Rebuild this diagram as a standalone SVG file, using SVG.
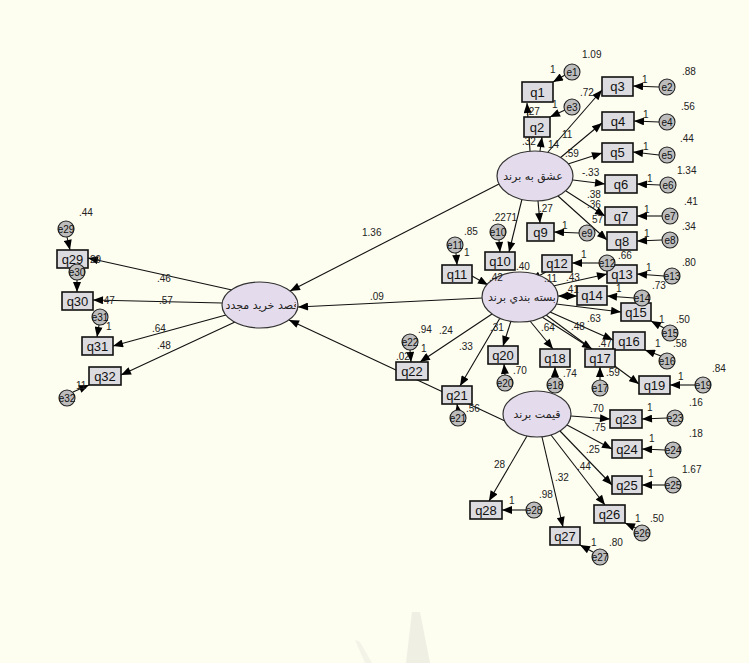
<svg xmlns="http://www.w3.org/2000/svg" width="749" height="663" viewBox="0 0 749 663">
<defs>
<marker id="ah" viewBox="0 0 10 8" refX="10" refY="4" markerWidth="11" markerHeight="8" markerUnits="userSpaceOnUse" orient="auto-start-reverse"><path d="M0,0 L10,4 L0,8 z" fill="#000"/></marker>
<clipPath id="c1"><ellipse cx="535" cy="176" rx="36" ry="24"/></clipPath>
<clipPath id="c2"><ellipse cx="520" cy="297" rx="36" ry="24"/></clipPath>
<clipPath id="c3"><ellipse cx="537" cy="414" rx="33" ry="22"/></clipPath>
<clipPath id="c4"><ellipse cx="260" cy="305" rx="36" ry="22"/></clipPath>
</defs>
<style>
.box{fill:#dcdce0;stroke:#111;stroke-width:1.6}
.lat{fill:#e4dcec;stroke:#333;stroke-width:1.2}
.err{fill:#bdbdbd;stroke:#222;stroke-width:1.1}
.bt{font-family:"Liberation Sans",Arial,sans-serif;font-size:13px;fill:#111;text-anchor:middle}
.et{font-family:"Liberation Sans",Arial,sans-serif;font-size:10px;fill:#111;text-anchor:middle}
.lt{font-family:"DejaVu Sans",sans-serif;font-size:11px;fill:#222;text-anchor:middle}
.n{font-family:"Liberation Sans",Arial,sans-serif;font-size:10px;fill:#222}
.ln{stroke:#111;stroke-width:1.1;fill:none;marker-end:url(#ah)}
</style>
<rect width="749" height="663" fill="#fdfdf0"/>
<polygon points="412,612 406,663 430,663 420,612" fill="#efefe4"/>
<polygon points="355,640 365,663 372,663 360,642" fill="#f3f3e8"/>

<g id="connectors">
<line class="ln" x1="530" y1="151" x2="527" y2="103"/>
<line class="ln" x1="540" y1="151" x2="542" y2="137"/>
<line class="ln" x1="548" y1="152" x2="602" y2="90"/>
<line class="ln" x1="560" y1="158" x2="602" y2="123"/>
<line class="ln" x1="568" y1="164" x2="602" y2="153"/>
<line class="ln" x1="573" y1="180" x2="605" y2="184"/>
<line class="ln" x1="566" y1="191" x2="605" y2="216"/>
<line class="ln" x1="558" y1="196" x2="607" y2="240"/>
<line class="ln" x1="538" y1="201" x2="540" y2="223"/>
<line class="ln" x1="522" y1="199" x2="509" y2="252"/>
<line class="ln" x1="499" y1="184" x2="290" y2="291"/>
<line class="ln" x1="472" y1="276" x2="488" y2="285"/>
<line class="ln" x1="546" y1="272" x2="531" y2="280"/>
<line class="ln" x1="553" y1="286" x2="607" y2="274"/>
<line class="ln" x1="558" y1="296" x2="577" y2="296" marker-start="url(#ah)"/>
<line class="ln" x1="556" y1="304" x2="621" y2="312"/>
<line class="ln" x1="550" y1="312" x2="613" y2="340"/>
<line class="ln" x1="542" y1="317" x2="592" y2="349"/>
<line class="ln" x1="546" y1="315" x2="639" y2="384"/>
<line class="ln" x1="530" y1="321" x2="553" y2="349"/>
<line class="ln" x1="511" y1="321" x2="503" y2="346"/>
<line class="ln" x1="500" y1="318" x2="460" y2="386"/>
<line class="ln" x1="492" y1="314" x2="420" y2="362"/>
<line class="ln" x1="482" y1="298" x2="298" y2="307"/>
<line class="ln" x1="505" y1="421" x2="289" y2="320"/>
<line class="ln" x1="571" y1="416" x2="610" y2="419"/>
<line class="ln" x1="567" y1="425" x2="612" y2="449"/>
<line class="ln" x1="560" y1="431" x2="612" y2="485"/>
<line class="ln" x1="551" y1="435" x2="605" y2="505"/>
<line class="ln" x1="542" y1="437" x2="563" y2="527"/>
<line class="ln" x1="527" y1="436" x2="489" y2="501"/>
<line class="ln" x1="232" y1="290" x2="88" y2="258"/>
<line class="ln" x1="222" y1="303" x2="93" y2="300"/>
<line class="ln" x1="226" y1="315" x2="113" y2="346"/>
<line class="ln" x1="235" y1="322" x2="121" y2="375"/>
<line class="ln" x1="565" y1="75" x2="553" y2="82"/>
<line class="ln" x1="565" y1="110" x2="550" y2="117"/>
<line class="ln" x1="659" y1="87" x2="633" y2="86"/>
<line class="ln" x1="659" y1="122" x2="634" y2="121"/>
<line class="ln" x1="659" y1="155" x2="633" y2="152"/>
<line class="ln" x1="660" y1="185" x2="637" y2="184"/>
<line class="ln" x1="662" y1="216" x2="637" y2="216"/>
<line class="ln" x1="662" y1="240" x2="637" y2="241"/>
<line class="ln" x1="579" y1="233" x2="554" y2="232"/>
<line class="ln" x1="499" y1="240" x2="500" y2="252"/>
<line class="ln" x1="456" y1="253" x2="457" y2="265"/>
<line class="ln" x1="599" y1="263" x2="572" y2="263"/>
<line class="ln" x1="664" y1="276" x2="637" y2="274"/>
<line class="ln" x1="634" y1="298" x2="607" y2="296"/>
<line class="ln" x1="664" y1="328" x2="651" y2="321"/>
<line class="ln" x1="661" y1="356" x2="645" y2="350"/>
<line class="ln" x1="600" y1="380" x2="600" y2="367"/>
<line class="ln" x1="555" y1="377" x2="555" y2="367"/>
<line class="ln" x1="695" y1="385" x2="670" y2="385"/>
<line class="ln" x1="505" y1="375" x2="504" y2="364"/>
<line class="ln" x1="458" y1="410" x2="457" y2="404"/>
<line class="ln" x1="410" y1="350" x2="411" y2="362"/>
<line class="ln" x1="667" y1="418" x2="642" y2="419"/>
<line class="ln" x1="665" y1="450" x2="642" y2="449"/>
<line class="ln" x1="665" y1="485" x2="642" y2="485"/>
<line class="ln" x1="636" y1="528" x2="625" y2="523"/>
<line class="ln" x1="593" y1="552" x2="580" y2="545"/>
<line class="ln" x1="526" y1="510" x2="502" y2="510"/>
<line class="ln" x1="67" y1="237" x2="70" y2="250"/>
<line class="ln" x1="77" y1="280" x2="77" y2="292"/>
<line class="ln" x1="99" y1="325" x2="97" y2="337"/>
<line class="ln" x1="73" y1="392" x2="89" y2="385"/>
</g>

<g id="L1"><ellipse class="lat" cx="535" cy="176" rx="38" ry="25"/><text class="lt" x="533" y="180" clip-path="url(#c1)">عشق به برند</text></g>
<g id="L2"><ellipse class="lat" cx="520" cy="297" rx="38" ry="25"/><text class="lt" x="522" y="301" clip-path="url(#c2)">بسته بندي برند</text></g>
<g id="L3"><ellipse class="lat" cx="537" cy="414" rx="34" ry="23"/><text class="lt" x="537" y="418" clip-path="url(#c3)">قيمت برند</text></g>
<g id="L4"><ellipse class="lat" cx="260" cy="305" rx="38" ry="23"/><text class="lt" x="262" y="309" clip-path="url(#c4)">قصد خريد مجدد</text></g>

<g id="q1"><rect class="box" x="522" y="82" width="31" height="20"/><text class="bt" x="537.5" y="97">q1</text></g>
<g id="q2"><rect class="box" x="524" y="117" width="26" height="20"/><text class="bt" x="537" y="132">q2</text></g>
<g id="q3"><rect class="box" x="602" y="77" width="31" height="19"/><text class="bt" x="617.5" y="91">q3</text></g>
<g id="q4"><rect class="box" x="602" y="112" width="32" height="18"/><text class="bt" x="618" y="126">q4</text></g>
<g id="q5"><rect class="box" x="602" y="143" width="31" height="19"/><text class="bt" x="617.5" y="157">q5</text></g>
<g id="q6"><rect class="box" x="605" y="175" width="32" height="18"/><text class="bt" x="621" y="189">q6</text></g>
<g id="q7"><rect class="box" x="605" y="207" width="32" height="18"/><text class="bt" x="621" y="221">q7</text></g>
<g id="q8"><rect class="box" x="607" y="232" width="30" height="18"/><text class="bt" x="622" y="246">q8</text></g>
<g id="q9"><rect class="box" x="527" y="223" width="27" height="18"/><text class="bt" x="540.5" y="237">q9</text></g>
<g id="q10"><rect class="box" x="485" y="252" width="30" height="18"/><text class="bt" x="500" y="266">q10</text></g>
<g id="q11"><rect class="box" x="442" y="265" width="30" height="18"/><text class="bt" x="457" y="279">q11</text></g>
<g id="q12"><rect class="box" x="542" y="255" width="30" height="17"/><text class="bt" x="557" y="268">q12</text></g>
<g id="q13"><rect class="box" x="607" y="265" width="30" height="18"/><text class="bt" x="622" y="279">q13</text></g>
<g id="q14"><rect class="box" x="577" y="286" width="30" height="19"/><text class="bt" x="592" y="300">q14</text></g>
<g id="q15"><rect class="box" x="621" y="303" width="30" height="18"/><text class="bt" x="636" y="317">q15</text></g>
<g id="q16"><rect class="box" x="613" y="332" width="32" height="18"/><text class="bt" x="629" y="346">q16</text></g>
<g id="q17"><rect class="box" x="585" y="349" width="30" height="18"/><text class="bt" x="600" y="363">q17</text></g>
<g id="q18"><rect class="box" x="540" y="349" width="30" height="18"/><text class="bt" x="555" y="363">q18</text></g>
<g id="q19"><rect class="box" x="639" y="376" width="31" height="18"/><text class="bt" x="654.5" y="390">q19</text></g>
<g id="q20"><rect class="box" x="488" y="346" width="30" height="18"/><text class="bt" x="503" y="360">q20</text></g>
<g id="q21"><rect class="box" x="442" y="386" width="30" height="18"/><text class="bt" x="457" y="400">q21</text></g>
<g id="q22"><rect class="box" x="396" y="362" width="32" height="18"/><text class="bt" x="412" y="376">q22</text></g>
<g id="q23"><rect class="box" x="610" y="410" width="32" height="18"/><text class="bt" x="626" y="424">q23</text></g>
<g id="q24"><rect class="box" x="612" y="440" width="30" height="18"/><text class="bt" x="627" y="454">q24</text></g>
<g id="q25"><rect class="box" x="612" y="476" width="30" height="18"/><text class="bt" x="627" y="490">q25</text></g>
<g id="q26"><rect class="box" x="594" y="505" width="31" height="18"/><text class="bt" x="609.5" y="519">q26</text></g>
<g id="q27"><rect class="box" x="550" y="527" width="30" height="18"/><text class="bt" x="565" y="541">q27</text></g>
<g id="q28"><rect class="box" x="470" y="501" width="32" height="18"/><text class="bt" x="486" y="515">q28</text></g>
<g id="q29"><rect class="box" x="57" y="250" width="31" height="18"/><text class="bt" x="72.5" y="264">q29</text></g>
<g id="q30"><rect class="box" x="62" y="292" width="31" height="18"/><text class="bt" x="77.5" y="306">q30</text></g>
<g id="q31"><rect class="box" x="82" y="337" width="31" height="18"/><text class="bt" x="97.5" y="351">q31</text></g>
<g id="q32"><rect class="box" x="89" y="367" width="32" height="18"/><text class="bt" x="105" y="381">q32</text></g>

<g id="e1"><circle class="err" cx="572" cy="72" r="8"/><text class="et" x="572" y="76">e1</text></g>
<g id="e2"><circle class="err" cx="667" cy="87" r="8"/><text class="et" x="667" y="91">e2</text></g>
<g id="e3"><circle class="err" cx="572" cy="107" r="8"/><text class="et" x="572" y="111">e3</text></g>
<g id="e4"><circle class="err" cx="667" cy="122" r="8"/><text class="et" x="667" y="126">e4</text></g>
<g id="e5"><circle class="err" cx="667" cy="155" r="8"/><text class="et" x="667" y="159">e5</text></g>
<g id="e6"><circle class="err" cx="668" cy="185" r="8"/><text class="et" x="668" y="189">e6</text></g>
<g id="e7"><circle class="err" cx="670" cy="216" r="8"/><text class="et" x="670" y="220">e7</text></g>
<g id="e8"><circle class="err" cx="670" cy="240" r="8"/><text class="et" x="670" y="244">e8</text></g>
<g id="e9"><circle class="err" cx="587" cy="233" r="8"/><text class="et" x="587" y="237">e9</text></g>
<g id="e10"><circle class="err" cx="498" cy="232" r="8"/><text class="et" x="498" y="236">e10</text></g>
<g id="e11"><circle class="err" cx="455" cy="245" r="8"/><text class="et" x="455" y="249">e11</text></g>
<g id="e12"><circle class="err" cx="607" cy="263" r="8"/><text class="et" x="607" y="267">e12</text></g>
<g id="e13"><circle class="err" cx="672" cy="276" r="8"/><text class="et" x="672" y="280">e13</text></g>
<g id="e14"><circle class="err" cx="642" cy="298" r="8"/><text class="et" x="642" y="302">e14</text></g>
<g id="e15"><circle class="err" cx="670" cy="333" r="8"/><text class="et" x="670" y="337">e15</text></g>
<g id="e16"><circle class="err" cx="667" cy="361" r="8"/><text class="et" x="667" y="365">e16</text></g>
<g id="e17"><circle class="err" cx="600" cy="388" r="8"/><text class="et" x="600" y="392">e17</text></g>
<g id="e18"><circle class="err" cx="555" cy="385" r="8"/><text class="et" x="555" y="389">e18</text></g>
<g id="e19"><circle class="err" cx="703" cy="385" r="8"/><text class="et" x="703" y="389">e19</text></g>
<g id="e20"><circle class="err" cx="505" cy="383" r="8"/><text class="et" x="505" y="387">e20</text></g>
<g id="e21"><circle class="err" cx="458" cy="418" r="8"/><text class="et" x="458" y="422">e21</text></g>
<g id="e22"><circle class="err" cx="410" cy="342" r="8"/><text class="et" x="410" y="346">e22</text></g>
<g id="e23"><circle class="err" cx="675" cy="418" r="8"/><text class="et" x="675" y="422">e23</text></g>
<g id="e24"><circle class="err" cx="673" cy="450" r="8"/><text class="et" x="673" y="454">e24</text></g>
<g id="e25"><circle class="err" cx="673" cy="485" r="8"/><text class="et" x="673" y="489">e25</text></g>
<g id="e26"><circle class="err" cx="642" cy="533" r="8"/><text class="et" x="642" y="537">e26</text></g>
<g id="e27"><circle class="err" cx="600" cy="557" r="8"/><text class="et" x="600" y="561">e27</text></g>
<g id="e28"><circle class="err" cx="534" cy="510" r="8"/><text class="et" x="534" y="514">e28</text></g>
<g id="e29"><circle class="err" cx="66" cy="229" r="8"/><text class="et" x="66" y="233">e29</text></g>
<g id="e30"><circle class="err" cx="77" cy="272" r="8"/><text class="et" x="77" y="276">e30</text></g>
<g id="e31"><circle class="err" cx="100" cy="317" r="8"/><text class="et" x="100" y="321">e31</text></g>
<g id="e32"><circle class="err" cx="67" cy="398" r="8"/><text class="et" x="67" y="402">e32</text></g>

<g id="labels">
<text class="n" x="582" y="58">1.09</text><text class="n" x="550" y="73">1</text>
<text class="n" x="682" y="75">.88</text><text class="n" x="642" y="83">1</text>
<text class="n" x="580" y="96">.72</text><text class="n" x="552" y="108">1</text>
<text class="n" x="526" y="115">.27</text><text class="n" x="522" y="145">.32</text>
<text class="n" x="548" y="148">14</text><text class="n" x="562" y="138">11</text>
<text class="n" x="681" y="110">.56</text><text class="n" x="643" y="118">1</text>
<text class="n" x="565" y="157">.59</text><text class="n" x="680" y="142">.44</text><text class="n" x="643" y="150">1</text>
<text class="n" x="582" y="176">-.33</text><text class="n" x="677" y="174">1.34</text><text class="n" x="647" y="182">1</text>
<text class="n" x="587" y="198">.38</text><text class="n" x="587" y="208">.36</text><text class="n" x="592" y="223">57</text>
<text class="n" x="684" y="205">.41</text><text class="n" x="644" y="213">1</text>
<text class="n" x="682" y="230">.34</text><text class="n" x="644" y="237">1</text>
<text class="n" x="539" y="212">.27</text><text class="n" x="562" y="229">1</text>
<text class="n" x="618" y="259">.66</text>
<text class="n" x="492" y="221">.22</text><text class="n" x="506" y="221">71</text>
<text class="n" x="464" y="235">.85</text><text class="n" x="464" y="256">1</text>
<text class="n" x="489" y="281">.42</text><text class="n" x="516" y="270">.40</text><text class="n" x="544" y="282">.11</text>
<text class="n" x="581" y="258">1</text><text class="n" x="566" y="281">.43</text>
<text class="n" x="682" y="266">.80</text><text class="n" x="646" y="271">1</text><text class="n" x="652" y="289">.73</text>
<text class="n" x="565" y="293">.41</text><text class="n" x="616" y="292">1</text>
<text class="n" x="587" y="322">.63</text>
<text class="n" x="490" y="331">.31</text><text class="n" x="541" y="331">.64</text><text class="n" x="571" y="330">.48</text>
<text class="n" x="598" y="347">.47</text>
<text class="n" x="459" y="350">.33</text><text class="n" x="439" y="334">.24</text><text class="n" x="418" y="333">.94</text>
<text class="n" x="396" y="360">.02</text><text class="n" x="421" y="352">1</text>
<text class="n" x="513" y="374">.70</text><text class="n" x="563" y="377">.74</text><text class="n" x="606" y="376">.59</text>
<text class="n" x="659" y="323">1</text><text class="n" x="676" y="323">.50</text>
<text class="n" x="655" y="347">1</text><text class="n" x="673" y="347">.58</text>
<text class="n" x="678" y="380">1</text><text class="n" x="712" y="372">.84</text>
<text class="n" x="466" y="412">.56</text>
<text class="n" x="590" y="412">.70</text><text class="n" x="592" y="431">.75</text>
<text class="n" x="586" y="453">.25</text><text class="n" x="577" y="470">.44</text><text class="n" x="555" y="481">.32</text>
<text class="n" x="494" y="468">28</text><text class="n" x="539" y="498">.98</text>
<text class="n" x="689" y="406">.16</text><text class="n" x="647" y="411">1</text>
<text class="n" x="689" y="437">.18</text><text class="n" x="649" y="442">1</text>
<text class="n" x="682" y="473">1.67</text><text class="n" x="648" y="477">1</text>
<text class="n" x="635" y="522">1</text><text class="n" x="650" y="522">.50</text>
<text class="n" x="591" y="546">1</text><text class="n" x="609" y="546">.80</text>
<text class="n" x="509" y="504">1</text>
<text class="n" x="362" y="236">1.36</text><text class="n" x="370" y="300">.09</text>
<text class="n" x="157" y="282">.46</text><text class="n" x="159" y="304">.57</text>
<text class="n" x="152" y="332">.64</text><text class="n" x="157" y="349">.48</text>
<text class="n" x="79" y="216">.44</text><text class="n" x="90" y="263">29</text>
<text class="n" x="101" y="304">.47</text><text class="n" x="106" y="330">1</text>
<text class="n" x="76" y="389">11</text>
</g>
</svg>
